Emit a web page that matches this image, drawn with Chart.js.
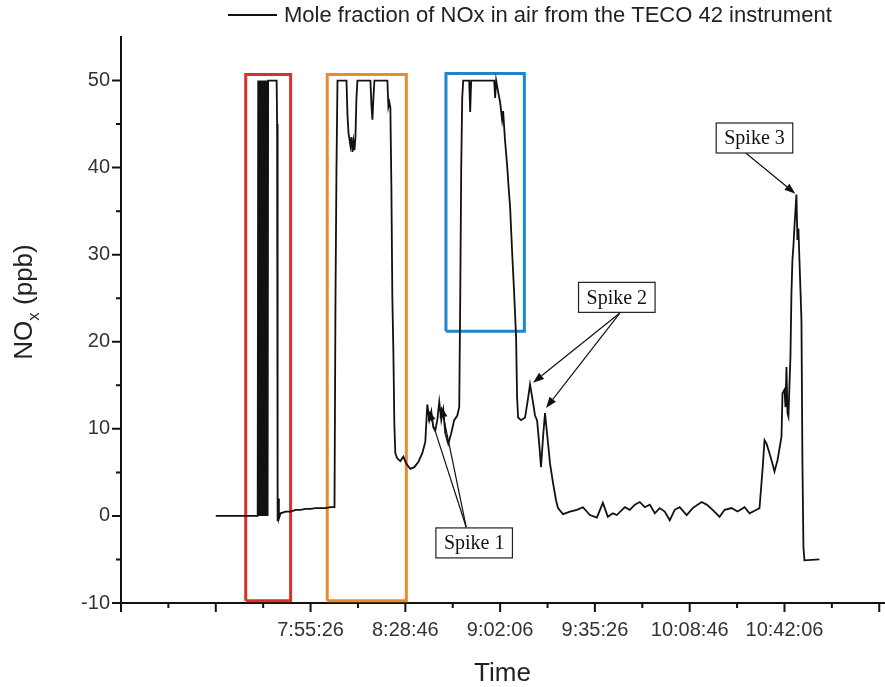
<!DOCTYPE html>
<html>
<head>
<meta charset="utf-8">
<script src="https://cdn.jsdelivr.net/npm/chart.js@4.4.1/dist/chart.umd.min.js"></script>
<style>
  html, body { margin: 0; padding: 0; background: #ffffff; }
  #wrap { width: 885px; height: 687px; position: relative; }
</style>
</head>
<body>
<div id="wrap"><canvas id="c" width="885" height="687"></canvas></div>
<script>
// ---------- data (time in seconds of the day, NOx in ppb) ----------
const timeSec = [
  26526, 27410, 27421, 27431, 27442, 27452, 27463, 27473, 27484, 27494,
  27505, 27515, 27526, 27536, 27547, 27557, 27568, 27578, 27589, 27599,
  27610, 27620, 27631, 27810, 27820, 27831, 27845, 27858, 27894, 27999,
  28105, 28210, 28316, 28421, 28526, 28631, 28737, 28842, 28947, 29031,
  29052, 29073, 29094, 29284, 29305, 29326, 29368, 29389, 29410, 29431,
  29452, 29473, 29494, 29515, 29789, 29810, 29831, 29852, 29873, 30147,
  30168, 30189, 30210, 30231, 30252, 30273, 30294, 30315, 30357, 30421,
  30484, 30547, 30631, 30715, 30800, 30884, 30947, 30989, 31031, 31073,
  31115, 31157, 31200, 31242, 31284, 31326, 31368, 31431, 31494, 31557,
  31621, 31663, 31684, 31705, 31726, 31747, 31873, 31894, 31915, 32400,
  32421, 32442, 32484, 32526, 32568, 32589, 32631, 32673, 32715, 32737,
  32779, 32821, 32863, 32884, 32905, 32968, 33052, 33115, 33157, 33221,
  33263, 33305, 33347, 33389, 33431, 33473, 33536, 33579, 33642, 33705,
  33747, 33852, 33999, 34146, 34273, 34420, 34567, 34694, 34799, 34905,
  34989, 35157, 35263, 35368, 35473, 35578, 35684, 35789, 35894, 35999,
  36105, 36210, 36315, 36462, 36589, 36778, 36884, 37010, 37157, 37263,
  37410, 37536, 37684, 37789, 37936, 37999, 38063, 38105, 38147, 38210,
  38273, 38315, 38379, 38463, 38484, 38526, 38547, 38568, 38589, 38610,
  38631, 38652, 38673, 38694, 38715, 38736, 38757, 38778, 38799, 38820,
  38842, 38863, 38884, 38905, 38926, 38947, 39263
];
const noxPpb = [
  0, 0, 50, 0, 50, 0, 50, 0, 50, 0,
  50, 0, 50, 0, 50, 0, 50, 0, 50, 0,
  50, 0, 50, 50, 45, -0.6, 2.0, -0.3, 0.3, 0.5,
  0.5, 0.7, 0.7, 0.8, 0.8, 0.9, 0.9, 0.9, 1.0, 1.0,
  25, 40, 50, 50, 46, 44, 42.5, 43.5, 41.8, 43.0,
  42.0, 43.5, 48, 50, 50, 47.2, 45.5, 48, 50, 50,
  47, 47.5, 46.9, 38, 25, 19, 10.5, 7.2, 6.6, 6.3,
  6.8, 6.0, 5.4, 5.6, 6.2, 7.2, 8.5, 12.8, 11.0, 12.0,
  10.2, 9.8, 11.0, 13.1, 11.0, 12.2, 9.5, 8.3, 9.5, 11.0,
  11.5, 12.5, 25, 40, 48, 50, 50, 46.4, 50, 50,
  48, 50, 48.7, 47.5, 45.5, 46.5, 43, 40.3, 37, 35.4,
  30.3, 25.7, 20.5, 13.6, 11.3, 11.0, 11.3, 13.5, 15.1, 13.0,
  11.5, 11.0, 8.5, 5.6, 9.0, 11.8, 8.4, 6.0, 3.8, 1.8,
  0.9, 0.2, 0.5, 0.7, 1.0, 0.1, -0.2, 1.5, -0.1, 0.3,
  0.1, 1.0, 0.7, 1.3, 1.6, 1.0, 1.3, 0.3, 0.9, 0.5,
  -0.5, 0.7, 1.0, 0.1, 0.9, 1.6, 1.3, 0.7, -0.1, 0.7,
  0.9, 0.5, 1.0, 0.3, 0.7, 0.9, 5.3, 8.7, 8.3, 7.2,
  6.0, 5.1, 6.4, 9.1, 14.1, 14.5, 12.5, 17.1, 11.8, 11.4,
  15, 18.3, 25.6, 29.4, 31, 33.2, 35, 36.9, 31.7, 33,
  29.4, 26, 22.5, 6.1, -3.6, -5.1, -5.0
];

// x axis: labelled ticks and tick marks (seconds of the day)
const xTickSec    = [28526, 30526, 32526, 34526, 36526, 38526];
const xTickLabels = ['7:55:26', '8:28:46', '9:02:06', '9:35:26', '10:08:46', '10:42:06'];
const xMajorSec   = [24526, 26526, 28526, 30526, 32526, 34526, 36526, 38526, 40526];
const xMinorSec   = [25526, 27526, 29526, 31526, 33526, 35526, 37526, 39526];
const xRange      = [24526, 40626];

// y axis
const yTickValues = [-10, 0, 10, 20, 30, 40, 50];
const yMinorValues = [-5, 5, 15, 25, 35, 45];
const yRange = [-10, 55];

// highlight boxes: [startSec, endSec, lowPpb, highPpb]
const redBox    = [27158, 28105, -9.75, 50.7];
const orangeBox = [28878, 30547, -9.75, 50.7];
const blueBox   = [31383, 33037, 21.2, 50.8];

// annotations
const spikeLabels   = ['Spike 1', 'Spike 2', 'Spike 3'];
const spikeLabelPos = [[31978, -3.1], [34988, 25.1], [37893, 43.4]];
const spikeArrowFrom = [[[31810, -1.3], [31810, -1.3]], [[35052, 23.3], [35052, 23.3]], [[37683, 41.8]]];
const spikeArrowTo   = [[[31010, 12.2], [31284, 12.6]], [[33220, 15.3], [33494, 12.4]], [[38756, 37.0]]];

const legendText = 'Mole fraction of NOx in air from the TECO 42 instrument';

// ---------- build ----------
const tracePoints = timeSec.map((t, i) => ({ x: t, y: noxPpb[i] }));
function boxPoints(b) {
  return [{x: b[0], y: b[2]}, {x: b[0], y: b[3]}, {x: b[1], y: b[3]}, {x: b[1], y: b[2]}, {x: b[0], y: b[2]}];
}

const SANS = "'Liberation Sans', Arial, Helvetica, sans-serif";
const SERIF = "'Liberation Serif', 'Times New Roman', serif";

const extrasPlugin = {
  id: 'extras',
  afterDraw(chart) {
    const ctx = chart.ctx;
    const xs = chart.scales.x, ys = chart.scales.y;
    const ca = chart.chartArea;
    ctx.save();
    // tick marks (outward)
    ctx.strokeStyle = '#111';
    ctx.lineWidth = 2;
    ctx.beginPath();
    xMajorSec.forEach(v => { const px = xs.getPixelForValue(v); ctx.moveTo(px, ca.bottom); ctx.lineTo(px, ca.bottom + 9); });
    xMinorSec.forEach(v => { const px = xs.getPixelForValue(v); ctx.moveTo(px, ca.bottom); ctx.lineTo(px, ca.bottom + 5); });
    yTickValues.forEach(v => { const py = ys.getPixelForValue(v); ctx.moveTo(ca.left, py); ctx.lineTo(ca.left - 9, py); });
    yMinorValues.forEach(v => { const py = ys.getPixelForValue(v); ctx.moveTo(ca.left, py); ctx.lineTo(ca.left - 5, py); });
    ctx.stroke();

    // axis titles
    ctx.fillStyle = '#222';
    ctx.font = '26px ' + SANS;
    ctx.textAlign = 'center';
    ctx.textBaseline = 'alphabetic';
    ctx.fillText('Time', (ca.left + ca.right) / 2, 681);

    // y title with subscript
    ctx.save();
    ctx.translate(32, 302);
    ctx.rotate(-Math.PI / 2);
    const f1 = '26px ' + SANS, f2 = '17px ' + SANS;
    ctx.font = f1; const wNO = ctx.measureText('NO').width; const wRest = ctx.measureText(' (ppb)').width;
    ctx.font = f2; const wx = ctx.measureText('x').width;
    const total = wNO + wx + wRest;
    let xx = -total / 2;
    ctx.textAlign = 'left';
    ctx.font = f1; ctx.fillText('NO', xx, 0); xx += wNO;
    ctx.font = f2; ctx.fillText('x', xx, 7); xx += wx;
    ctx.font = f1; ctx.fillText(' (ppb)', xx, 0);
    ctx.restore();

    // legend
    ctx.strokeStyle = '#111';
    ctx.lineWidth = 2;
    ctx.beginPath(); ctx.moveTo(228, 15); ctx.lineTo(277, 15); ctx.stroke();
    ctx.fillStyle = '#222';
    ctx.font = '22px ' + SANS;
    ctx.textAlign = 'left';
    ctx.textBaseline = 'middle';
    ctx.fillText(legendText, 284, 16);

    // spike annotations
    spikeLabels.forEach((lab, i) => {
      ctx.strokeStyle = '#111';
      ctx.fillStyle = '#111';
      ctx.lineWidth = 1.2;
      spikeArrowFrom[i].forEach((fr, j) => {
        const to = spikeArrowTo[i][j];
        const x0 = xs.getPixelForValue(fr[0]), y0 = ys.getPixelForValue(fr[1]);
        const x1 = xs.getPixelForValue(to[0]), y1 = ys.getPixelForValue(to[1]);
        const ang = Math.atan2(y1 - y0, x1 - x0);
        const hl = 11, hw = 4;
        const bx = x1 - hl * Math.cos(ang), by = y1 - hl * Math.sin(ang);
        ctx.beginPath(); ctx.moveTo(x0, y0); ctx.lineTo(bx, by); ctx.stroke();
        ctx.beginPath();
        ctx.moveTo(x1, y1);
        ctx.lineTo(bx + hw * Math.sin(ang), by - hw * Math.cos(ang));
        ctx.lineTo(bx - hw * Math.sin(ang), by + hw * Math.cos(ang));
        ctx.closePath(); ctx.fill();
      });
      const cx = xs.getPixelForValue(spikeLabelPos[i][0]);
      const cy = ys.getPixelForValue(spikeLabelPos[i][1]);
      ctx.font = '20px ' + SERIF;
      const w = ctx.measureText(lab).width + 16, h = 30;
      ctx.fillStyle = '#fff';
      ctx.fillRect(cx - w / 2, cy - h / 2, w, h);
      ctx.strokeStyle = '#222'; ctx.lineWidth = 1.2;
      ctx.strokeRect(cx - w / 2, cy - h / 2, w, h);
      ctx.fillStyle = '#111';
      ctx.textAlign = 'center'; ctx.textBaseline = 'middle';
      ctx.fillText(lab, cx, cy + 1);
    });
    ctx.restore();
  }
};

new Chart(document.getElementById('c'), {
  type: 'scatter',
  data: {
    datasets: [
      { label: legendText, data: tracePoints, showLine: true, borderColor: '#111', borderWidth: 1.8,
        pointRadius: 0, tension: 0, fill: false, order: 1 },
      { label: 'red', data: boxPoints(redBox), showLine: true, borderColor: '#d8312b', borderWidth: 3, pointRadius: 0, fill: false, order: 2 },
      { label: 'orange', data: boxPoints(orangeBox), showLine: true, borderColor: '#e88b2e', borderWidth: 3, pointRadius: 0, fill: false, order: 2 },
      { label: 'blue', data: boxPoints(blueBox), showLine: true, borderColor: '#1e87c8', borderWidth: 3, pointRadius: 0, fill: false, order: 2 }
    ]
  },
  options: {
    responsive: false,
    animation: false,
    devicePixelRatio: 1,
    layout: { padding: { top: 37, right: 1, left: 0, bottom: 0 } },
    plugins: { legend: { display: false }, tooltip: { enabled: false } },
    scales: {
      x: {
        type: 'linear', min: xRange[0], max: xRange[1],
        grid: { display: false },
        border: { display: true, color: '#111', width: 2 },
        afterBuildTicks: s => { s.ticks = xTickSec.map(v => ({ value: v })); },
        afterFit: s => { s.height = 84; },
        ticks: {
          autoSkip: false, maxRotation: 0, padding: 7, color: '#333',
          font: { family: SANS, size: 20 },
          callback: v => { const i = xTickSec.indexOf(v); return i >= 0 ? xTickLabels[i] : ''; }
        }
      },
      y: {
        type: 'linear', min: yRange[0], max: yRange[1],
        grid: { display: false },
        border: { display: true, color: '#111', width: 2 },
        afterBuildTicks: s => { s.ticks = yTickValues.map(v => ({ value: v })); },
        afterFit: s => { s.width = 121; },
        ticks: { padding: 3, color: '#333', font: { family: SANS, size: 20 } }
      }
    }
  },
  plugins: [extrasPlugin]
});
</script>
</body>
</html>
